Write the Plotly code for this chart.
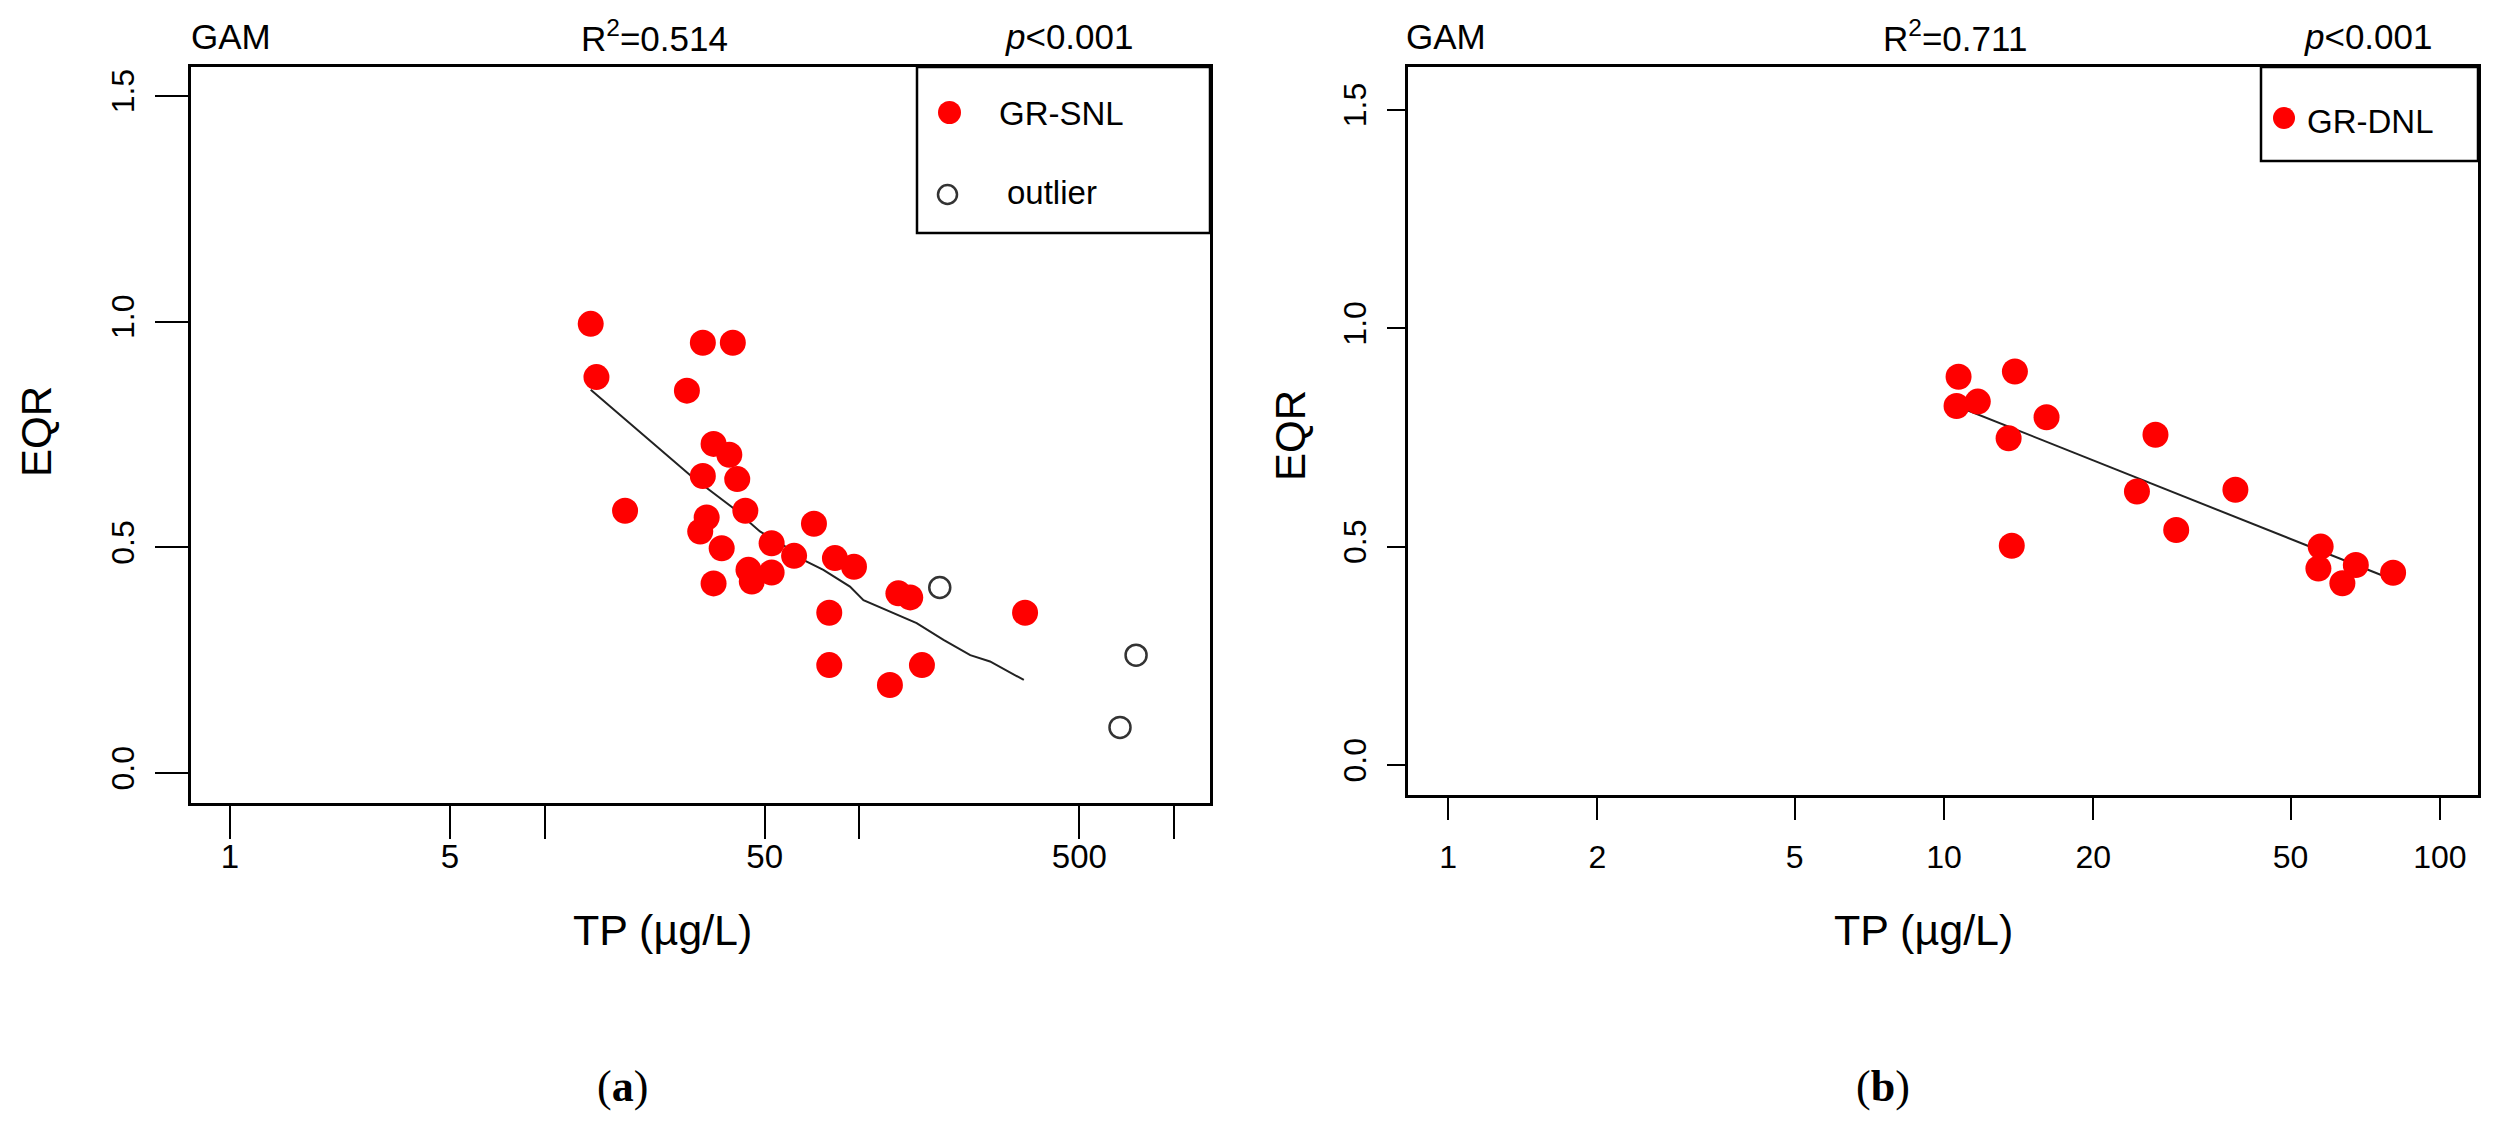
import plotly.graph_objects as go

W, H = 2506, 1122

# ---- panel (a): GR-SNL ----
tp_a = [14.0, 14.6, 31.8, 39.6, 28.3, 34.4, 38.6, 31.8, 40.9, 18.0, 43.4, 71.7, 32.7, 31.2, 36.5,
        52.6, 62.0, 44.4, 52.6, 45.5, 34.4, 83.6, 96.1, 80.2, 80.2, 133, 145, 125, 158, 336]
eqr_a = [0.995, 0.877, 0.953, 0.953, 0.847, 0.729, 0.705, 0.658, 0.651, 0.581, 0.581, 0.552, 0.566, 0.535, 0.498,
         0.509, 0.481, 0.450, 0.444, 0.424, 0.420, 0.476, 0.457, 0.355, 0.239, 0.398, 0.389, 0.195, 0.239, 0.355]
tp_outlier = [180, 757, 673]
eqr_outlier = [0.411, 0.261, 0.101]
gam_a_x = [14.0, 29.5, 39.7, 48.3, 57.3, 66.3, 76.8, 93.3, 103, 125, 152, 185, 225, 260, 333]
gam_a_y = [0.849, 0.655, 0.587, 0.535, 0.505, 0.472, 0.450, 0.413, 0.383, 0.357, 0.332, 0.295, 0.261, 0.247, 0.206]

# ---- panel (b): GR-DNL ----
tp_b = [10.7, 13.9, 10.6, 11.7, 13.5, 16.1, 26.7, 24.5, 38.7, 29.4, 13.7, 57.5, 56.9, 67.7, 63.6, 80.5]
eqr_b = [0.889, 0.901, 0.822, 0.832, 0.748, 0.796, 0.756, 0.626, 0.630, 0.538, 0.502, 0.500, 0.450, 0.458, 0.416, 0.440]
gam_b_x = [10.6, 29.9, 80.5]
gam_b_y = [0.822, 0.618, 0.424]

xticks_a = [1, 5, 50, 500]
xticklabels_a = ["1", "5", "50", "500"]
xticks_a_unlabeled = [10, 100, 1000]
xticks_b = [1, 2, 5, 10, 20, 50, 100]
xticklabels_b = ["1", "2", "5", "10", "20", "50", "100"]
yticks = [0.0, 0.5, 1.0, 1.5]
yticklabels = ["0.0", "0.5", "1.0", "1.5"]

SANS = "Liberation Sans, Arial, sans-serif"
SERIF = "Liberation Serif, Times New Roman, serif"


def px_x(p):
    return p / W


def px_y(p):
    return 1 - p / H


fig = go.Figure()

fig.add_trace(go.Scatter(x=gam_a_x, y=gam_a_y, mode="lines", line=dict(color="#222222", width=2),
                         xaxis="x", yaxis="y", showlegend=False))
fig.add_trace(go.Scatter(x=tp_a, y=eqr_a, mode="markers", marker=dict(color="#ff0000", size=26, line=dict(width=0)),
                         xaxis="x", yaxis="y", showlegend=False))
fig.add_trace(go.Scatter(x=tp_outlier, y=eqr_outlier, mode="markers",
                         marker=dict(symbol="circle-open", color="#333333", size=21, line=dict(width=2.5)),
                         xaxis="x", yaxis="y", showlegend=False))

fig.add_trace(go.Scatter(x=gam_b_x, y=gam_b_y, mode="lines", line=dict(color="#222222", width=2),
                         xaxis="x2", yaxis="y2", showlegend=False))
fig.add_trace(go.Scatter(x=tp_b, y=eqr_b, mode="markers", marker=dict(color="#ff0000", size=26, line=dict(width=0)),
                         xaxis="x2", yaxis="y2", showlegend=False))

axis_common = dict(showgrid=False, zeroline=False, showline=True, mirror=True, linecolor="black",
                   linewidth=2.5, ticks="outside", tickcolor="black", tickwidth=2)

fig.update_layout(
    width=W, height=H,
    margin=dict(l=0, r=0, t=0, b=0),
    paper_bgcolor="white", plot_bgcolor="white",
    showlegend=False,
    xaxis=dict(axis_common, type="log", domain=[px_x(191), px_x(1210)], range=[-0.124, 3.114],
               tickmode="array", tickvals=xticks_a, ticktext=xticklabels_a, ticklen=33,
               ticklabelstandoff=-10,
               minor=dict(tickmode="array", tickvals=xticks_a_unlabeled, ticks="outside", ticklen=33,
                          tickwidth=2, tickcolor="black", showgrid=False),
               tickfont=dict(family=SANS, size=33, color="black"), anchor="y"),
    yaxis=dict(axis_common, domain=[px_y(803), px_y(67)], range=[-0.0665, 1.564],
               tickmode="array", tickvals=yticks, ticktext=yticklabels, ticklen=33, tickangle=-90,
               ticklabelstandoff=8, tickfont=dict(family=SANS, size=32, color="black"), anchor="x"),
    xaxis2=dict(axis_common, type="log", domain=[px_x(1408), px_x(2478)], range=[-0.081, 2.077],
                tickmode="array", tickvals=xticks_b, ticktext=xticklabels_b, ticklen=22,
                tickfont=dict(family=SANS, size=32, color="black"), ticklabelstandoff=10, anchor="y2"),
    yaxis2=dict(axis_common, domain=[px_y(795), px_y(67)], range=[-0.0687, 1.598],
                tickmode="array", tickvals=yticks, ticktext=yticklabels, ticklen=18, tickangle=-90,
                ticklabelstandoff=8, tickfont=dict(family=SANS, size=32, color="black"), anchor="x2"),
)

annotations = []


def label(text, x, y, size, family=SANS, angle=0, xanchor="center"):
    annotations.append(dict(text=text, x=px_x(x), y=px_y(y), xref="paper", yref="paper",
                            xanchor=xanchor, yanchor="middle", showarrow=False, textangle=angle,
                            font=dict(family=family, size=size, color="black")))


# header texts
label("GAM", 231, 36, 35)
label("R<sup>2</sup>=0.514", 654, 36, 35)
label("<i>p</i>&lt;0.001", 1069, 36, 35)
label("GAM", 1446, 36, 35)
label("R<sup>2</sup>=0.711", 1955, 36, 35)
label("<i>p</i>&lt;0.001", 2368, 36, 35)

# axis titles
label("EQR", 36, 432, 42, angle=-90)
label("EQR", 1290, 436, 42, angle=-90)
label("TP (µg/L)", 662, 930, 43)
label("TP (µg/L)", 1923, 930, 43)

# panel captions
label("(<b>a</b>)", 622, 1086, 44, family=SERIF)
label("(<b>b</b>)", 1883, 1086, 44, family=SERIF)

# legend texts
label("GR-SNL", 997, 113, 33, xanchor="left")
label("outlier", 1005, 192, 33, xanchor="left")
label("GR-DNL", 2305, 121, 33, xanchor="left")

shapes = [
    # legend boxes
    dict(type="rect", xref="paper", yref="paper", x0=px_x(917), x1=px_x(1210), y0=px_y(233), y1=px_y(67),
         line=dict(color="black", width=2.5), fillcolor="rgba(0,0,0,0)"),
    dict(type="rect", xref="paper", yref="paper", x0=px_x(2261), x1=px_x(2478), y0=px_y(161), y1=px_y(67),
         line=dict(color="black", width=2.5), fillcolor="rgba(0,0,0,0)"),
    # legend glyphs
    dict(type="circle", xref="paper", yref="paper", x0=px_x(938), x1=px_x(961), y0=px_y(124), y1=px_y(101),
         fillcolor="#ff0000", line=dict(width=0)),
    dict(type="circle", xref="paper", yref="paper", x0=px_x(938), x1=px_x(957), y0=px_y(204), y1=px_y(185),
         fillcolor="rgba(0,0,0,0)", line=dict(color="#333333", width=2.5)),
    dict(type="circle", xref="paper", yref="paper", x0=px_x(2273), x1=px_x(2295), y0=px_y(129), y1=px_y(107),
         fillcolor="#ff0000", line=dict(width=0)),
]

fig.update_layout(annotations=annotations, shapes=shapes)

# remove the browser's default page margin so the figure sits at (0, 0); no modebar
fig.write_html("out.html", config={"displayModeBar": False},
               post_script="document.body.style.margin = '0px';")
